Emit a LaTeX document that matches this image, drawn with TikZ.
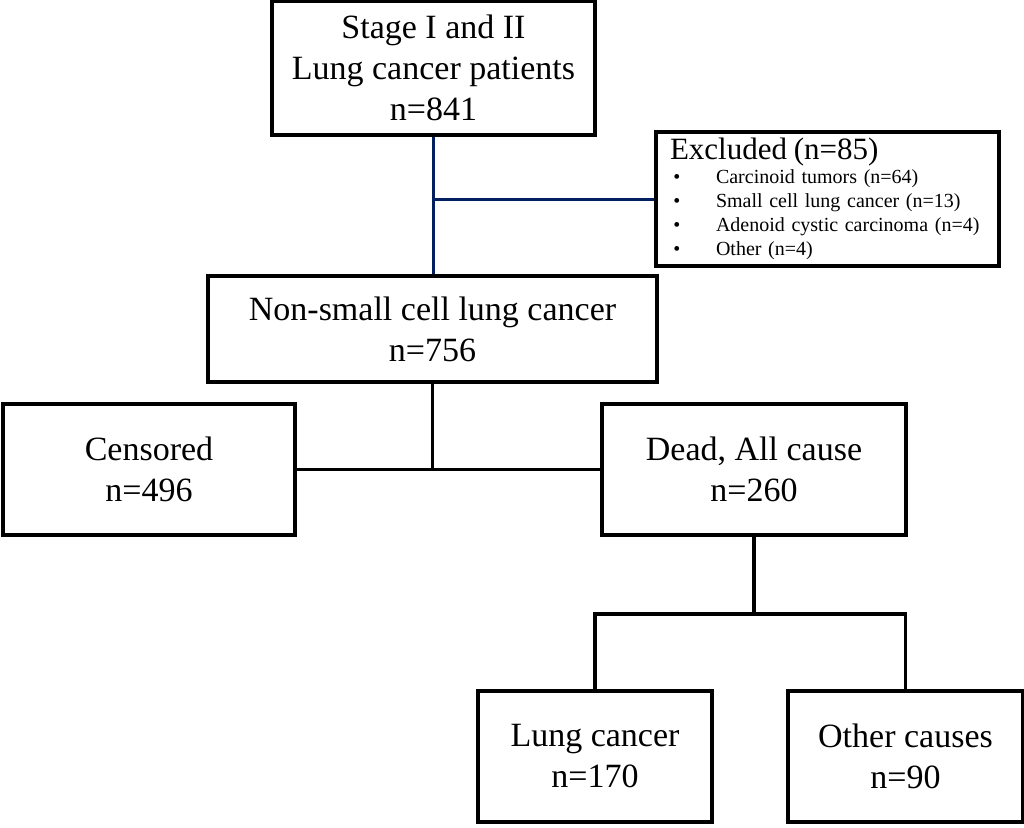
\documentclass[tikz,border=0pt]{standalone}
\usepackage{fontspec}
\setmainfont{Liberation Serif}
\usepackage{tikz}
\usetikzlibrary{positioning}
\definecolor{navyline}{RGB}{0,32,96}

\begin{document}
\begin{tikzpicture}[x=1pt, y=1pt,
box/.style={draw, line width=3.5pt, align=center, inner sep=0pt, minimum height=131pt,
  font=\fontsize{34}{41}\selectfont},
link/.style={line width=3.5pt},
blue/.style={line width=3pt, draw=navyline}]
\useasboundingbox (0,0) rectangle (1024,-827);
\node[box, minimum width=323pt, minimum height=134pt] (top) at (433.5,-68)
  {Stage I and II\\Lung cancer patients\\n=841};
\node[draw, line width=3.5pt, align=left, inner xsep=14pt, inner ysep=0pt, text width=315pt,
  minimum height=134pt, font=\fontsize{20}{24}\selectfont] (excl) at (827.5,-199)
  {{\fontsize{31}{30}\selectfont Excluded (n=85)}\\
   \makebox[46pt][l]{\,•}Carcinoid tumors (n=64)\\
   \makebox[46pt][l]{\,•}Small cell lung cancer (n=13)\\
   \makebox[46pt][l]{\,•}Adenoid cystic carcinoma (n=4)\\
   \makebox[46pt][l]{\,•}Other (n=4)};
\node[box, minimum width=449pt, minimum height=106pt] (nsclc) at (432.5,-329)
  {Non-small cell lung cancer\\n=756};
\node[box, minimum width=292pt] (cens) at (149,-469.5) {Censored\\n=496};
\node[box, minimum width=304pt] (dead) at (754,-469.5) {Dead, All cause\\n=260};
\node[box, minimum width=234pt] (lung) at (595,-756.5) {Lung cancer\\n=170};
\node[box, minimum width=235pt] (other) at (905.5,-756.5) {Other causes\\n=90};
\coordinate (split) at (754,-614);
\draw[blue] (top.south) -- (top.south |- nsclc.north);
\draw[blue] (top.south |- excl.west) -- (excl.west);
\draw[link] (nsclc.south) -- (nsclc.south |- cens.east);
\draw[link] (cens.east) -- (dead.west);
\draw[link] (dead.south) -- (split);
\draw[link] (lung.north) |- (split) -| (other.north);
\end{tikzpicture}
\end{document}
